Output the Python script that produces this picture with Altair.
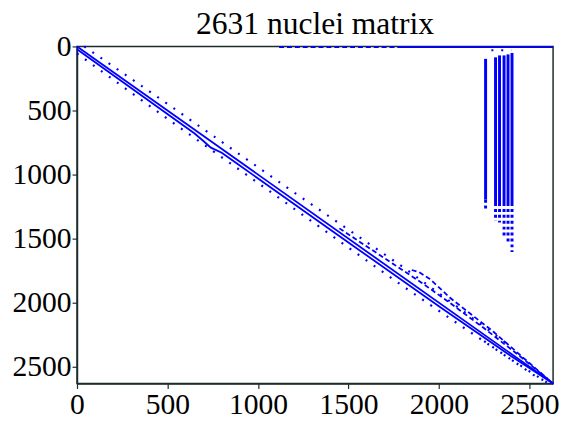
import altair as alt
import pandas as pd

N = 2631
tick_values = [0, 500, 1000, 1500, 2000, 2500]

# ---- polylines of non-zero bands (column index, row index) ----
diag_cols = [0, 2631]
diag_rows = [0, 2631]

lower_cols = [0, 650, 700, 740, 800, 880, 1500, 2000, 2400, 2631]
lower_rows = [22, 680, 740, 790, 830, 910, 1530, 2028, 2418, 2631]

bump_cols = [1850, 1890, 1950, 2000, 2060, 2150, 2300, 2450, 2631]
bump_rows = [1745, 1762, 1815, 1880, 1960, 2060, 2225, 2410, 2631]

mid_cols = [1450, 1600, 1750, 1900, 2050, 2250, 2450, 2631]
mid_rows = [1420, 1560, 1700, 1840, 1990, 2200, 2420, 2631]

above_dot_cols = [40, 400, 800, 1200, 1500, 1800, 2100, 2400]
above_dot_rows = [0, 350, 745, 1140, 1430, 1720, 2030, 2345]

below_dot_cols = [0, 500, 1000, 1500, 1800, 2100, 2400, 2600]
below_dot_rows = [55, 565, 1065, 1570, 1870, 2160, 2445, 2625]

cluster_cols = [2250, 2400, 2550, 2631]
cluster_rows = [2300, 2445, 2590, 2631]

top_dash_cols = [1117, 1770]
top_dash_rows = [6, 6]
top_solid_cols = [1770, 2631]
top_solid_rows = [6, 6]
top_spots_cols = [2290, 2400]
top_spots_rows = [30, 30]

# ---- dense column blocks ----
block_cols = [2258, 2313, 2335, 2360, 2382, 2404]
block_top = [97, 85, 70, 70, 62, 51]
block_solid_end = [1196, 1222, 1222, 1222, 1222, 1222]
block_dot_end = [1273, 1362, 1375, 1478, 1529, 1605]

lines = [
    ("diag", "solid", diag_cols, diag_rows),
    ("lower", "solid", lower_cols, lower_rows),
    ("bump", "dashed", bump_cols, bump_rows),
    ("mid", "dashed", mid_cols, mid_rows),
    ("above", "dotted", above_dot_cols, above_dot_rows),
    ("below", "dotted", below_dot_cols, below_dot_rows),
    ("cluster", "dotted", cluster_cols, cluster_rows),
    ("topdash", "dashed", top_dash_cols, top_dash_rows),
    ("topsolid", "solid", top_solid_cols, top_solid_rows),
    ("topspots", "dotted", top_spots_cols, top_spots_rows),
]
recs = []
for name, style, cs, rs in lines:
    for i, (c, r) in enumerate(zip(cs, rs)):
        recs.append({"band": name, "style": style, "seq": i, "col": c, "row": r})
df = pd.DataFrame(recs)

blocks = pd.DataFrame({
    "col": block_cols, "top": block_top,
    "solid_end": block_solid_end, "dot_end": block_dot_end,
})

BLUE = "#0000ff"
AX = "#1e2b2b"
FONT = "Liberation Serif"

xs = alt.Scale(domain=[0, N], nice=False, zero=False)
ys = alt.Scale(domain=[0, N], nice=False, zero=False, reverse=True)
xaxis = alt.Axis(values=tick_values, title=None, grid=False, format="d",
                 labelFlush=False)
yaxis = alt.Axis(values=tick_values, title=None, grid=False, format="d",
                 labelFlush=False)

base = alt.Chart(df).encode(
    x=alt.X("col:Q", scale=xs, axis=xaxis),
    y=alt.Y("row:Q", scale=ys, axis=yaxis),
    detail="band:N",
    order="seq:Q",
)
solid = base.transform_filter(alt.datum.style == "solid").mark_line(
    color=BLUE, strokeWidth=1.8)
dashed = base.transform_filter(alt.datum.style == "dashed").mark_line(
    color=BLUE, strokeWidth=1.8, strokeDash=[5, 3])
dotted = base.transform_filter(alt.datum.style == "dotted").mark_line(
    color=BLUE, strokeWidth=2.2, strokeDash=[2, 8])

bsolid = alt.Chart(blocks).mark_rule(color=BLUE, strokeWidth=3).encode(
    x=alt.X("col:Q", scale=xs, axis=xaxis),
    y=alt.Y("top:Q", scale=ys, axis=yaxis),
    y2="solid_end:Q",
)
bdot = alt.Chart(blocks).mark_rule(color=BLUE, strokeWidth=3, strokeDash=[3, 3]).encode(
    x=alt.X("col:Q", scale=xs, axis=xaxis),
    y=alt.Y("solid_end:Q", scale=ys, axis=yaxis),
    y2="dot_end:Q",
)

chart = alt.layer(solid, dashed, dotted, bsolid, bdot).properties(
    width=483, height=342,
    autosize=alt.AutoSizeParams(type="none"),
    padding={"left": 70, "top": 36, "right": 6, "bottom": 34},
    title=alt.TitleParams("2631 nuclei matrix", font=FONT, fontSize=32,
                          fontWeight="normal", color="black", offset=-9,
                          anchor="middle"),
).configure_axis(
    domainColor=AX, domainWidth=1.5, tickColor=AX, tickWidth=1.2, tickSize=5,
    labelFont=FONT, labelFontSize=30, labelColor="black", labelPadding=1,
).configure_view(stroke=AX, strokeWidth=1.5)

chart.save("out.html", embed_options={"renderer": "svg", "actions": False})
